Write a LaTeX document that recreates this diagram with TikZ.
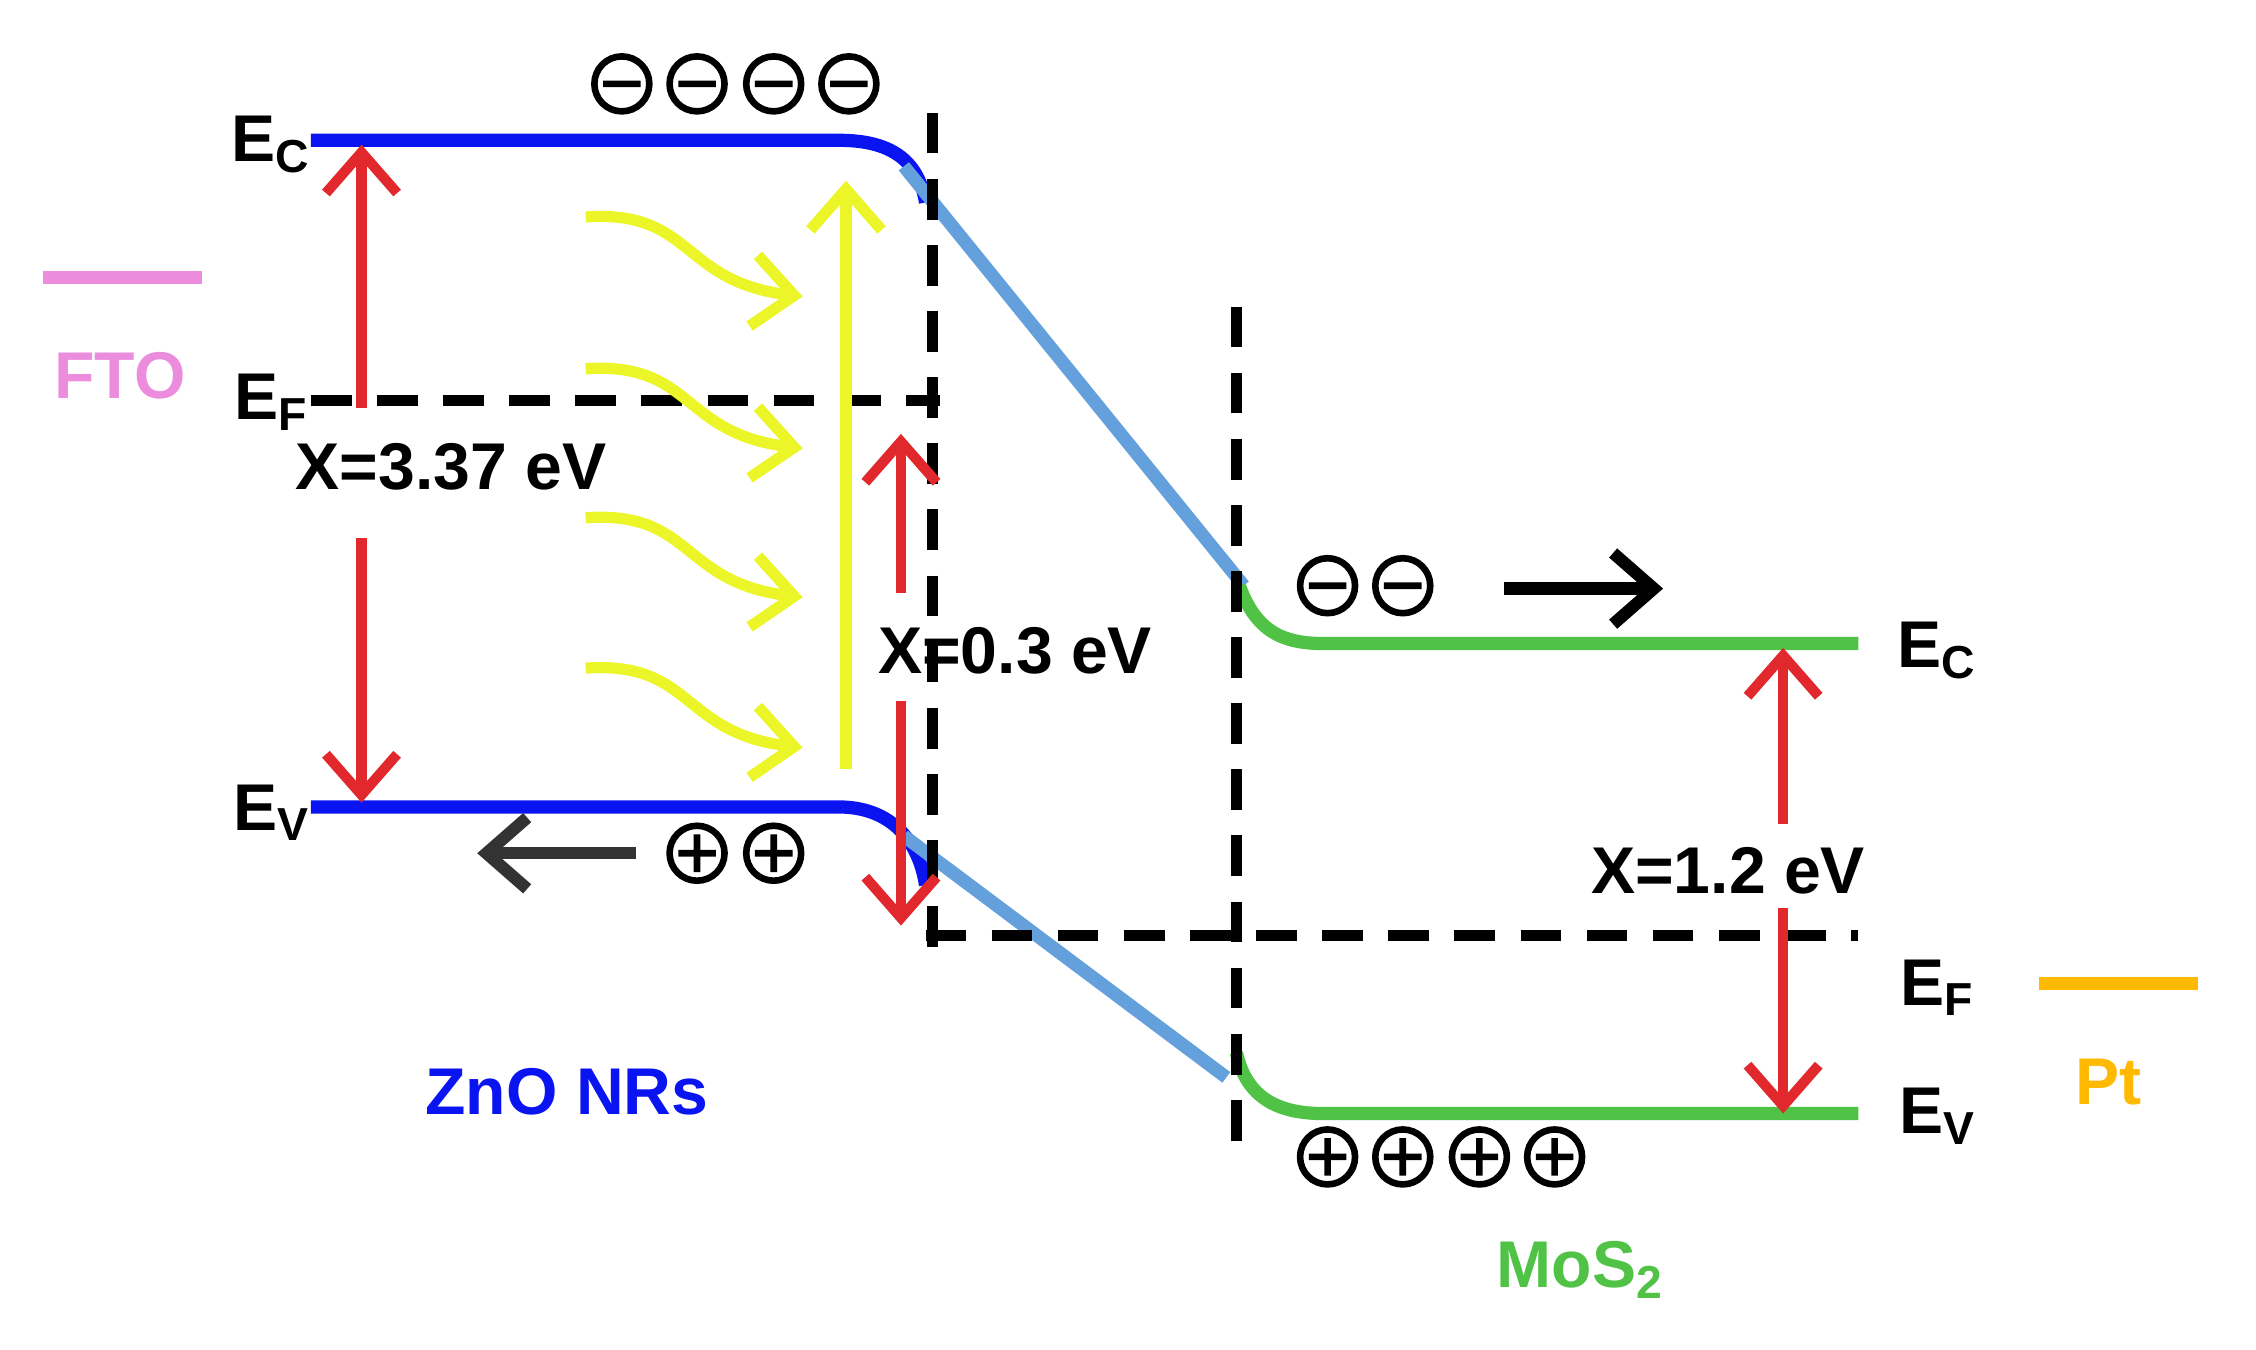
\documentclass[tikz,border=0pt]{standalone}
\usepackage{fontspec}
\setmainfont{Liberation Sans}
\usetikzlibrary{arrows.meta}
\definecolor{zno}{RGB}{10,20,240}
\definecolor{mos}{RGB}{80,195,70}
\definecolor{link}{RGB}{100,160,220}
\definecolor{gap}{RGB}{225,40,45}
\definecolor{light}{RGB}{235,245,40}
\definecolor{fto}{RGB}{235,140,220}
\definecolor{pt}{RGB}{255,185,0}
\tikzset{
  band/.style={line width=2.6pt},
  fermi/.style={line width=2.2pt, dash pattern=on 8pt off 5pt},
  gaparrow/.style={gap, line width=2pt, -{Straight Barb[length=8pt,width=14pt]}},
  txt/.style={font=\fontsize{13}{15}\selectfont\bfseries, inner sep=0pt},
}
\newcommand{\chargeminus}[1]{\draw[line width=1.3pt] (#1) circle (19) ++(-13,0) -- ++(26,0);}
\newcommand{\chargeplus}[1]{\draw[line width=1.3pt] (#1) circle (19) ++(-13,0) -- ++(26,0) ++(-13,-13) -- ++(0,26);}
\begin{document}
\begin{tikzpicture}[x=0.01cm, y=-0.01cm]
\useasboundingbox (0,0) rectangle (1560,933);
%%%%% Bands %%%%%
\draw[band, zno] (215,97) -- (580,97) .. controls (615,97) and (635,110) .. (640,140);
\draw[band, zno] (215,558) -- (580,558) .. controls (615,558) and (635,580) .. (640,612);
\draw[band, link] (625,115) -- (860,405);
\draw[band, link] (625,578) -- (848,745);
\draw[band, mos] (857,405) .. controls (868,435) and (885,445) .. (915,445) -- (1285,445);
\draw[band, mos] (855,728) .. controls (862,760) and (885,770) .. (915,770) -- (1285,770);
%%%%% Fermi levels and interfaces %%%%%
\draw[fermi] (215,277) -- (650,277);
\draw[fermi] (645,78) -- (645,660);
\draw[fermi] (640,647) -- (1285,647);
\draw[fermi] (855,212) -- (855,795);
%%%%% Contacts %%%%%
\draw[fto, line width=2.5pt] (30,192) -- (140,192);
\draw[pt, line width=2.5pt] (1410,680) -- (1520,680);
\node[txt, fto] (FTO) at (83,260) {FTO};
\node[txt, pt] (Pt) at (1458,748) {Pt};
\node[txt, zno] (ZnO) at (392,755) {ZnO NRs};
\node[txt, mos] (MoS) at (1093,878) {MoS\textsubscript{2}};
%%%%% Level labels %%%%%
\node[txt] (EcL) at (188,100) {E\textsubscript{C}};
\node[txt] (EfL) at (188,278) {E\textsubscript{F}};
\node[txt] (EvL) at (188,562) {E\textsubscript{V}};
\node[txt] (EcR) at (1340,450) {E\textsubscript{C}};
\node[txt] (EfR) at (1340,683) {E\textsubscript{F}};
\node[txt] (EvR) at (1340,772) {E\textsubscript{V}};
%%%%% Gaps %%%%%
\draw[gaparrow] (250,282) -- (250,100);
\draw[gaparrow] (250,372) -- (250,555);
\draw[gaparrow] (623,410) -- (623,300);
\draw[gaparrow] (623,485) -- (623,640);
\draw[gaparrow] (1233,570) -- (1233,448);
\draw[gaparrow] (1233,628) -- (1233,770);
\node[txt] (gZnO) at (312,323) {X=3.37 eV};
\node[txt] (gInt) at (702,450) {X=0.3 eV};
\node[txt] (gMoS) at (1195,602) {X=1.2 eV};
%%%%% Light %%%%%
\draw[light, line width=2.2pt, -{Straight Barb[length=8pt,width=14pt]}] (585,532) -- (585,125);
\foreach \y in {150,255,358,462}{
\draw[light, line width=2.2pt, -{Straight Barb[length=8pt,width=14pt]}] (405,\y) .. controls (480,\y-5) and (470,\y+45) .. (555,\y+55);
}
%%%%% Charges %%%%%
\foreach \x in {430,482,535,587}{\chargeminus{\x,58}}
\foreach \x in {918,970}{\chargeminus{\x,405}}
\foreach \x in {482,535}{\chargeplus{\x,590}}
\foreach \x in {918,970,1023,1075}{\chargeplus{\x,800}}
\draw[line width=2.4pt, -{Straight Barb[length=8pt,width=14pt]}] (1040,407) -- (1150,407);
\draw[black!80, line width=2.4pt, -{Straight Barb[length=8pt,width=14pt]}] (440,590) -- (330,590);
\end{tikzpicture}
\end{document}
